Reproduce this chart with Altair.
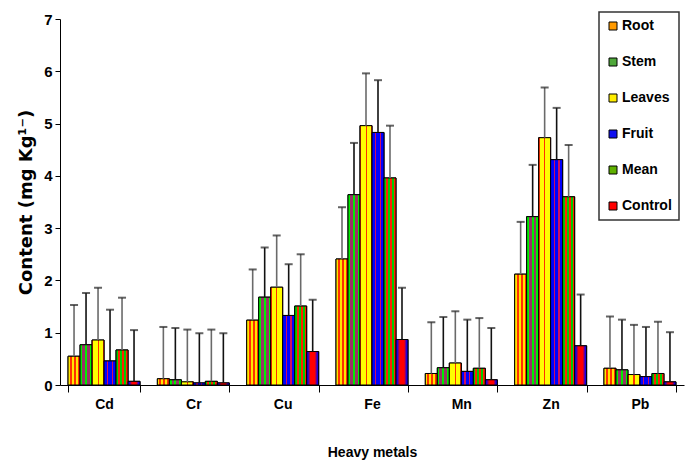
import altair as alt
import pandas as pd

# ---------------- data ----------------
metals = ["Cd", "Cr", "Cu", "Fe", "Mn", "Zn", "Pb"]
parts = ["Root", "Stem", "Leaves", "Fruit", "Mean", "Control"]

root = [0.55, 0.12, 1.24, 2.41, 0.22, 2.12, 0.32]
stem = [0.77, 0.10, 1.68, 3.64, 0.33, 3.22, 0.29]
leaves = [0.86, 0.06, 1.87, 4.96, 0.42, 4.73, 0.20]
fruit = [0.46, 0.04, 1.33, 4.83, 0.26, 4.31, 0.16]
mean = [0.67, 0.07, 1.51, 3.96, 0.32, 3.60, 0.22]
control = [0.07, 0.04, 0.64, 0.87, 0.10, 0.75, 0.06]

root_err = [0.98, 0.99, 0.97, 0.99, 0.98, 1.00, 0.99]
stem_err = [0.99, 0.99, 0.95, 0.99, 0.97, 0.99, 0.96]
leaves_err = [1.00, 1.00, 0.99, 1.00, 0.99, 0.96, 0.95]
fruit_err = [0.98, 0.95, 0.98, 1.00, 0.99, 0.99, 0.95]
mean_err = [1.00, 0.99, 0.99, 1.00, 0.96, 0.99, 0.99]
control_err = [0.98, 0.95, 0.99, 0.99, 0.99, 0.98, 0.95]

y_ticks = [0, 1, 2, 3, 4, 5, 6, 7]

values = dict(zip(parts, [root, stem, leaves, fruit, mean, control]))
errors = dict(zip(parts, [root_err, stem_err, leaves_err, fruit_err, mean_err, control_err]))

rows = []
for p in parts:
    for i, m in enumerate(metals):
        rows.append({"metal": m, "part": p, "value": values[p][i], "err": errors[p][i]})
df = pd.DataFrame(rows)
df["top"] = df["value"] + df["err"]

# ---------------- styles ----------------
FONT = "Liberation Sans, Arial, sans-serif"
FONT_W = "DejaVu Sans, Liberation Sans, sans-serif"


def lin(stops):
    return alt.LinearGradient(
        gradient="linear", x1=0, x2=1, y1=0, y2=0,
        stops=[alt.GradientStop(offset=o, color=c) for o, c in stops],
    )


def stripes(c1, c2, n, f=0.5):
    st = []
    for k in range(n):
        a = k / n
        b = (k + f) / n
        c = (k + 1) / n
        st += [(a, c1), (b, c1), (b, c2), (c, c2)]
    return st


fills = {
    "Root": lin(stripes("#FFE600", "#FF3000", 3)),
    "Stem": lin([(0, "#00EE00"), (0.18, "#00EE00"), (0.18, "#993366"), (0.42, "#993366"),
                 (0.42, "#00EE00"), (0.58, "#00EE00"), (0.58, "#993366"), (0.82, "#993366"),
                 (0.82, "#00EE00"), (1, "#00EE00")]),
    "Leaves": lin([(0, "#FF3300"), (0.09, "#FF3300"), (0.09, "#FFFF00"), (0.46, "#FFFF00"),
                   (0.46, "#FF3300"), (0.56, "#FF3300"), (0.56, "#FFFF00"), (0.91, "#FFFF00"),
                   (0.91, "#FF3300"), (1, "#FF3300")]),
    "Fruit": lin([(0, "#0000FF"), (0.25, "#0000FF"), (0.25, "#CC1060"), (0.36, "#CC1060"),
                  (0.36, "#0000FF"), (0.64, "#0000FF"), (0.64, "#CC1060"), (0.75, "#CC1060"),
                  (0.75, "#0000FF"), (1, "#0000FF")]),
    "Mean": lin(stripes("#00CC00", "#FF2200", 3)),
    "Control": lin([(0, "#0000EE"), (0.12, "#2000DD"), (0.32, "#FF0000"), (0.68, "#FF0000"),
                    (0.88, "#2000DD"), (1, "#0000EE")]),
}
legend_colors = ["#FF9A00", "#4FA83A", "#FFEE00", "#1010F0", "#5FB000", "#FF0000"]

# ---------------- encodings ----------------
x = alt.X(
    "metal:N",
    scale=alt.Scale(domain=metals, paddingInner=0.194, paddingOuter=0.09),
    axis=alt.Axis(
        title="Heavy metals", labelAngle=0, tickBand="extent", tickSize=7,
        labelPadding=5, titlePadding=34,
        labelFont=FONT, labelFontSize=14, labelFontWeight="bold", labelColor="black",
        titleFont=FONT, titleFontSize=14, titleFontWeight="bold", titleColor="black",
        domainColor="black", tickColor="black",
    ),
)
xo = alt.XOffset("part:N", scale=alt.Scale(domain=parts, paddingInner=0, paddingOuter=0))
y = alt.Y(
    "value:Q",
    scale=alt.Scale(domain=[0, 7], nice=False),
    axis=alt.Axis(
        values=y_ticks, format="d", grid=False, title="Content (mg Kg¹⁻)", tickSize=5,
        labelPadding=3, titlePadding=8,
        labelFont=FONT, labelFontSize=15, labelFontWeight="bold", labelColor="black",
        titleFont=FONT_W, titleFontSize=18, titleFontWeight="bold", titleColor="black",
        domainColor="black", tickColor="black",
    ),
)

base = alt.Chart(df)

legend_layer = base.mark_bar(stroke="black", strokeWidth=1).encode(
    x=x, xOffset=xo, y=y,
    color=alt.Color(
        "part:N",
        scale=alt.Scale(domain=parts, range=legend_colors),
        legend=alt.Legend(
            title=None, orient="none", legendX=539, legendY=-7,
            symbolType="square", symbolSize=64, symbolStrokeColor="black",
            symbolStrokeWidth=1, symbolOpacity=1,
            labelFont=FONT, labelFontSize=14, labelFontWeight="bold", labelColor="black",
            labelOffset=2, rowPadding=22, padding=7,
            strokeColor="#333333", fillColor="white",
        ),
    ),
)

layers = [legend_layer]
for p in parts:
    layers.append(
        base.transform_filter(alt.datum.part == p)
        .mark_bar(fill=fills[p], stroke="black", strokeWidth=1)
        .encode(x=x, xOffset=xo, y=y)
    )

gray_parts = ["Root", "Leaves", "Mean"]
err_gray = base.transform_filter(alt.FieldOneOfPredicate(field="part", oneOf=gray_parts)).mark_rule(
    color="#6a6a6a", strokeWidth=1.6
).encode(x=x, xOffset=xo, y="value:Q", y2="top:Q")
err_black = base.transform_filter(
    alt.FieldOneOfPredicate(field="part", oneOf=[p for p in parts if p not in gray_parts])
).mark_rule(color="#111111", strokeWidth=1.6).encode(x=x, xOffset=xo, y="value:Q", y2="top:Q")
caps = base.mark_tick(color="#222222", thickness=2, size=8).encode(x=x, xOffset=xo, y="top:Q")

layers += [err_gray, err_black, caps]

chart = (
    alt.layer(*layers)
    .properties(
        width=624, height=366,
        padding={"left": 52, "top": 11, "right": 1, "bottom": 80},
        autosize=alt.AutoSizeParams(type="none"),
    )
    .configure_view(stroke=None)
    .configure_legend(strokeWidth=1.5)
)

chart.save("out.html", embed_options={"renderer": "svg", "actions": False})
